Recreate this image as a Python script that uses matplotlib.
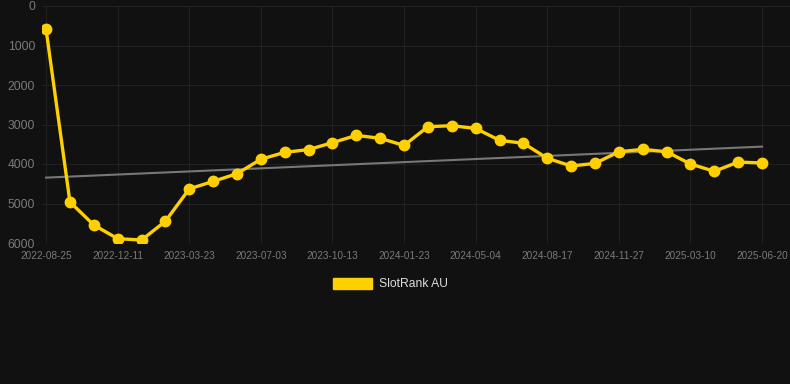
import matplotlib
matplotlib.use("Agg")
import matplotlib.pyplot as plt
from matplotlib.patches import Patch

plt.rcParams['font.family'] = ['Liberation Sans', 'DejaVu Sans']

tick_labels = ["2022-08-25", "2022-12-11", "2023-03-23", "2023-07-03", "2023-10-13",
               "2024-01-23", "2024-05-04", "2024-08-17", "2024-11-27", "2025-03-10",
               "2025-06-20"]
rank_values = [590, 4960, 5545, 5890, 5925, 5450, 4630, 4440, 4245, 3880,
               3705, 3635, 3460, 3275, 3350, 3530, 3055, 3030, 3100, 3400,
               3475, 3855, 4050, 3985, 3690, 3630, 3690, 4000, 4185, 3950, 3975]
trend_values = [4345, 3560]
series_name = "SlotRank AU"

bg = "#111111"
fig = plt.figure(figsize=(7.90, 3.84), dpi=100, facecolor=bg)
ax = fig.add_axes([42/790, 1 - 243/384, 1 - 42/790, (243 - 6)/384], facecolor=bg)

n = len(rank_values)
xs = list(range(n))
ax.plot([0, n - 1], trend_values, color="#777777", lw=1.5, zorder=2)
ax.plot(xs, rank_values, color="#FFD000", lw=2.4, marker="o", markersize=7.5,
        markerfacecolor="#FFD000", markeredgecolor="#FFD000", zorder=3)

ax.set_xlim(-0.17, 31.17)
ax.set_ylim(6000, 0)
ax.set_yticks(range(0, 6001, 1000))
ax.set_yticklabels([str(v) for v in range(0, 6001, 1000)])
ax.set_xticks(xs[::3])
ax.set_xticklabels(tick_labels)

ax.grid(True, color="#212121", lw=0.8)
for s in ax.spines.values():
    s.set_visible(False)
ax.tick_params(axis="both", length=0, colors="#7a7a7a")
ax.tick_params(axis="y", labelsize=8.7, pad=5)
ax.tick_params(axis="x", labelsize=7.2, pad=6)

handle = Patch(facecolor="#FFD000", edgecolor="#FFD000")
leg = fig.legend([handle], [series_name], loc="center", bbox_to_anchor=(390/790, 1 - 284/384),
                 frameon=False, handlelength=3.3, handleheight=1.0, handletextpad=0.5,
                 fontsize=8.7, labelcolor="#dddddd")

fig.savefig("out.png", dpi=100, facecolor=bg)
